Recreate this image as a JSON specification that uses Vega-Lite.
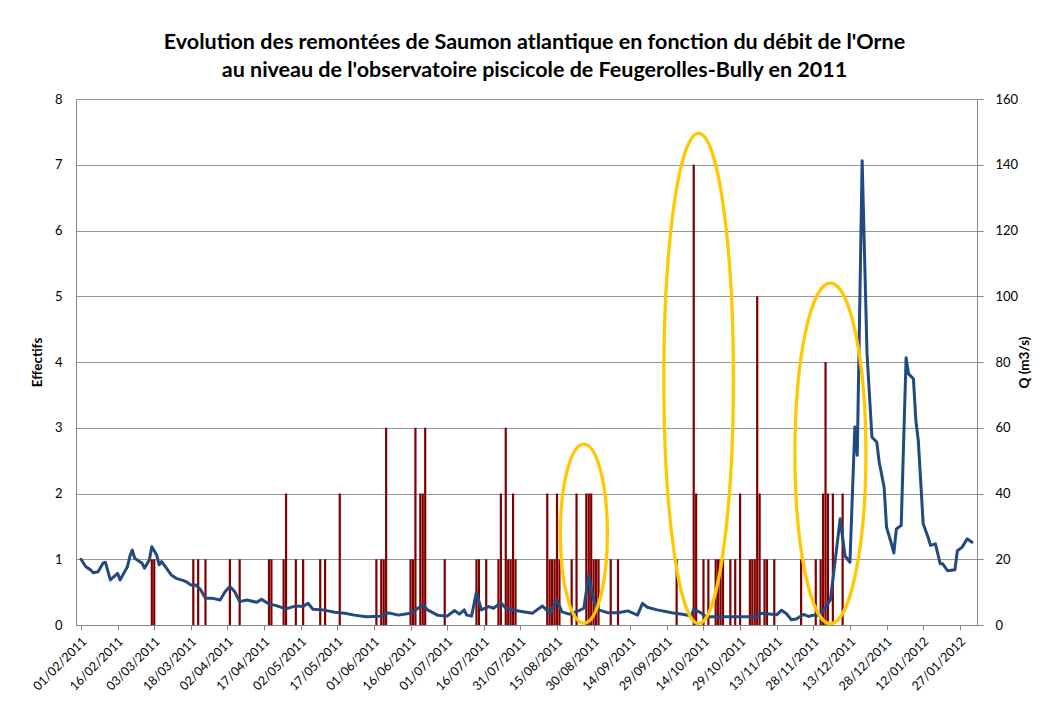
{
  "$schema": "https://vega.github.io/schema/vega-lite/v6.json",
  "width": 901,
  "height": 526,
  "autosize": {"type": "none"},
  "padding": {"left": 76, "top": 99, "right": 76, "bottom": 77},
  "background": "white",
  "title": {
    "text": [
      "Evolution des remontées de Saumon atlantique  en fonction du débit de l'Orne",
      "au niveau de l'observatoire piscicole de Feugerolles-Bully en 2011"
    ],
    "font": "Lato",
    "fontSize": 21.5,
    "fontWeight": "bold",
    "color": "#000000",
    "anchor": "middle",
    "lineHeight": 28,
    "offset": 12,
    "dx": 8
  },
  "encoding": {
    "x": {
      "field": "jour",
      "type": "temporal",
      "scale": {
        "domain": [
          {"year": 2011, "month": 2, "date": 1},
          {"year": 2012, "month": 2, "date": 1}
        ]
      },
      "axis": {
        "title": null,
        "format": "%d/%m/%Y",
        "values": [
          {"year": 2011, "month": 2, "date": 1},
          {"year": 2011, "month": 2, "date": 16},
          {"year": 2011, "month": 3, "date": 3},
          {"year": 2011, "month": 3, "date": 18},
          {"year": 2011, "month": 4, "date": 2},
          {"year": 2011, "month": 4, "date": 17},
          {"year": 2011, "month": 5, "date": 2},
          {"year": 2011, "month": 5, "date": 17},
          {"year": 2011, "month": 6, "date": 1},
          {"year": 2011, "month": 6, "date": 16},
          {"year": 2011, "month": 7, "date": 1},
          {"year": 2011, "month": 7, "date": 16},
          {"year": 2011, "month": 7, "date": 31},
          {"year": 2011, "month": 8, "date": 15},
          {"year": 2011, "month": 8, "date": 30},
          {"year": 2011, "month": 9, "date": 14},
          {"year": 2011, "month": 9, "date": 29},
          {"year": 2011, "month": 10, "date": 14},
          {"year": 2011, "month": 10, "date": 29},
          {"year": 2011, "month": 11, "date": 13},
          {"year": 2011, "month": 11, "date": 28},
          {"year": 2011, "month": 12, "date": 13},
          {"year": 2011, "month": 12, "date": 28},
          {"year": 2012, "month": 1, "date": 12},
          {"year": 2012, "month": 1, "date": 27}
        ],
        "labelAngle": -45,
        "labelAlign": "right",
        "labelBaseline": "middle",
        "labelFontSize": 12.5,
        "labelPadding": 9,
        "labelOffset": 3,
        "labelOverlap": false,
        "labelBound": false,
        "labelFlush": false,
        "ticks": true,
        "tickSize": 5,
        "grid": false
      }
    }
  },
  "layer": [
    {
      "data": {
        "format": {"parse": {"jour": "date:'%d/%m/%Y'"}},
        "values": [
          {"jour": "02/03/2011", "effectif": 1},
          {"jour": "03/03/2011", "effectif": 1},
          {"jour": "19/03/2011", "effectif": 1},
          {"jour": "21/03/2011", "effectif": 1},
          {"jour": "24/03/2011", "effectif": 1},
          {"jour": "03/04/2011", "effectif": 1},
          {"jour": "07/04/2011", "effectif": 1},
          {"jour": "19/04/2011", "effectif": 1},
          {"jour": "20/04/2011", "effectif": 1},
          {"jour": "25/04/2011", "effectif": 1},
          {"jour": "26/04/2011", "effectif": 2},
          {"jour": "30/04/2011", "effectif": 1},
          {"jour": "03/05/2011", "effectif": 1},
          {"jour": "10/05/2011", "effectif": 1},
          {"jour": "12/05/2011", "effectif": 1},
          {"jour": "18/05/2011", "effectif": 2},
          {"jour": "02/06/2011", "effectif": 1},
          {"jour": "04/06/2011", "effectif": 1},
          {"jour": "05/06/2011", "effectif": 1},
          {"jour": "06/06/2011", "effectif": 3},
          {"jour": "16/06/2011", "effectif": 1},
          {"jour": "17/06/2011", "effectif": 1},
          {"jour": "18/06/2011", "effectif": 3},
          {"jour": "20/06/2011", "effectif": 2},
          {"jour": "21/06/2011", "effectif": 2},
          {"jour": "22/06/2011", "effectif": 3},
          {"jour": "30/06/2011", "effectif": 1},
          {"jour": "13/07/2011", "effectif": 1},
          {"jour": "14/07/2011", "effectif": 1},
          {"jour": "17/07/2011", "effectif": 1},
          {"jour": "22/07/2011", "effectif": 1},
          {"jour": "23/07/2011", "effectif": 2},
          {"jour": "25/07/2011", "effectif": 3},
          {"jour": "26/07/2011", "effectif": 1},
          {"jour": "27/07/2011", "effectif": 1},
          {"jour": "28/07/2011", "effectif": 2},
          {"jour": "29/07/2011", "effectif": 1},
          {"jour": "11/08/2011", "effectif": 2},
          {"jour": "12/08/2011", "effectif": 1},
          {"jour": "13/08/2011", "effectif": 1},
          {"jour": "14/08/2011", "effectif": 1},
          {"jour": "15/08/2011", "effectif": 2},
          {"jour": "16/08/2011", "effectif": 1},
          {"jour": "21/08/2011", "effectif": 1},
          {"jour": "23/08/2011", "effectif": 2},
          {"jour": "27/08/2011", "effectif": 2},
          {"jour": "28/08/2011", "effectif": 2},
          {"jour": "29/08/2011", "effectif": 2},
          {"jour": "30/08/2011", "effectif": 1},
          {"jour": "31/08/2011", "effectif": 1},
          {"jour": "01/09/2011", "effectif": 1},
          {"jour": "06/09/2011", "effectif": 1},
          {"jour": "09/09/2011", "effectif": 1},
          {"jour": "03/10/2011", "effectif": 1},
          {"jour": "10/10/2011", "effectif": 7},
          {"jour": "11/10/2011", "effectif": 2},
          {"jour": "14/10/2011", "effectif": 1},
          {"jour": "16/10/2011", "effectif": 1},
          {"jour": "19/10/2011", "effectif": 1},
          {"jour": "20/10/2011", "effectif": 1},
          {"jour": "21/10/2011", "effectif": 1},
          {"jour": "22/10/2011", "effectif": 1},
          {"jour": "25/10/2011", "effectif": 1},
          {"jour": "27/10/2011", "effectif": 1},
          {"jour": "29/10/2011", "effectif": 2},
          {"jour": "02/11/2011", "effectif": 1},
          {"jour": "03/11/2011", "effectif": 1},
          {"jour": "04/11/2011", "effectif": 1},
          {"jour": "05/11/2011", "effectif": 5},
          {"jour": "06/11/2011", "effectif": 2},
          {"jour": "08/11/2011", "effectif": 1},
          {"jour": "09/11/2011", "effectif": 1},
          {"jour": "12/11/2011", "effectif": 1},
          {"jour": "23/11/2011", "effectif": 1},
          {"jour": "29/11/2011", "effectif": 1},
          {"jour": "01/12/2011", "effectif": 1},
          {"jour": "02/12/2011", "effectif": 2},
          {"jour": "03/12/2011", "effectif": 4},
          {"jour": "04/12/2011", "effectif": 2},
          {"jour": "06/12/2011", "effectif": 2},
          {"jour": "10/12/2011", "effectif": 2}
        ]
      },
      "mark": {"type": "bar", "size": 2.2, "color": "#800000"},
      "encoding": {
        "y": {
          "field": "effectif",
          "type": "quantitative",
          "scale": {"domain": [0, 8], "nice": false},
          "axis": {
            "orient": "left",
            "title": "Effectifs",
            "values": [0, 1, 2, 3, 4, 5, 6, 7, 8],
            "grid": true,
            "ticks": false,
            "labelPadding": 14,
            "titlePadding": 10
          }
        }
      }
    },
    {
      "data": {
        "format": {"parse": {"jour": "date:'%d/%m/%Y'"}},
        "values": [
          {"jour": "01/02/2011", "debit": 20.0},
          {"jour": "03/02/2011", "debit": 17.7},
          {"jour": "05/02/2011", "debit": 16.7},
          {"jour": "06/02/2011", "debit": 15.9},
          {"jour": "08/02/2011", "debit": 16.2},
          {"jour": "10/02/2011", "debit": 18.8},
          {"jour": "11/02/2011", "debit": 19.1},
          {"jour": "13/02/2011", "debit": 13.7},
          {"jour": "16/02/2011", "debit": 15.7},
          {"jour": "17/02/2011", "debit": 13.7},
          {"jour": "20/02/2011", "debit": 17.7},
          {"jour": "21/02/2011", "debit": 20.8},
          {"jour": "22/02/2011", "debit": 22.8},
          {"jour": "23/02/2011", "debit": 20.3},
          {"jour": "26/02/2011", "debit": 18.8},
          {"jour": "27/02/2011", "debit": 17.3},
          {"jour": "01/03/2011", "debit": 19.8},
          {"jour": "02/03/2011", "debit": 23.8},
          {"jour": "04/03/2011", "debit": 21.3},
          {"jour": "05/03/2011", "debit": 18.3},
          {"jour": "06/03/2011", "debit": 19.3},
          {"jour": "08/03/2011", "debit": 17.3},
          {"jour": "10/03/2011", "debit": 15.2},
          {"jour": "12/03/2011", "debit": 14.2},
          {"jour": "15/03/2011", "debit": 13.5},
          {"jour": "16/03/2011", "debit": 13.2},
          {"jour": "18/03/2011", "debit": 12.2},
          {"jour": "20/03/2011", "debit": 12.2},
          {"jour": "22/03/2011", "debit": 10.7},
          {"jour": "24/03/2011", "debit": 8.1},
          {"jour": "27/03/2011", "debit": 8.1},
          {"jour": "30/03/2011", "debit": 7.6},
          {"jour": "01/04/2011", "debit": 10.1},
          {"jour": "03/04/2011", "debit": 11.7},
          {"jour": "05/04/2011", "debit": 10.1},
          {"jour": "07/04/2011", "debit": 7.1},
          {"jour": "10/04/2011", "debit": 7.6},
          {"jour": "14/04/2011", "debit": 6.9},
          {"jour": "16/04/2011", "debit": 7.8},
          {"jour": "19/04/2011", "debit": 6.4},
          {"jour": "22/04/2011", "debit": 5.9},
          {"jour": "26/04/2011", "debit": 4.9},
          {"jour": "30/04/2011", "debit": 5.8},
          {"jour": "03/05/2011", "debit": 5.6},
          {"jour": "05/05/2011", "debit": 6.6},
          {"jour": "07/05/2011", "debit": 4.8},
          {"jour": "11/05/2011", "debit": 4.6},
          {"jour": "16/05/2011", "debit": 3.9},
          {"jour": "20/05/2011", "debit": 3.6},
          {"jour": "24/05/2011", "debit": 3.0},
          {"jour": "29/05/2011", "debit": 2.5},
          {"jour": "01/06/2011", "debit": 2.6},
          {"jour": "04/06/2011", "debit": 2.7},
          {"jour": "07/06/2011", "debit": 3.7},
          {"jour": "11/06/2011", "debit": 3.0},
          {"jour": "16/06/2011", "debit": 3.6},
          {"jour": "21/06/2011", "debit": 6.1},
          {"jour": "23/06/2011", "debit": 4.6},
          {"jour": "27/06/2011", "debit": 3.0},
          {"jour": "01/07/2011", "debit": 2.7},
          {"jour": "04/07/2011", "debit": 4.4},
          {"jour": "06/07/2011", "debit": 3.3},
          {"jour": "08/07/2011", "debit": 4.6},
          {"jour": "09/07/2011", "debit": 3.0},
          {"jour": "11/07/2011", "debit": 2.7},
          {"jour": "13/07/2011", "debit": 10.0},
          {"jour": "15/07/2011", "debit": 4.6},
          {"jour": "18/07/2011", "debit": 5.6},
          {"jour": "20/07/2011", "debit": 5.1},
          {"jour": "23/07/2011", "debit": 6.8},
          {"jour": "25/07/2011", "debit": 5.1},
          {"jour": "29/07/2011", "debit": 4.4},
          {"jour": "05/08/2011", "debit": 3.6},
          {"jour": "09/08/2011", "debit": 5.8},
          {"jour": "12/08/2011", "debit": 3.6},
          {"jour": "15/08/2011", "debit": 7.6},
          {"jour": "17/08/2011", "debit": 4.0},
          {"jour": "20/08/2011", "debit": 3.3},
          {"jour": "24/08/2011", "debit": 4.4},
          {"jour": "26/08/2011", "debit": 5.1},
          {"jour": "28/08/2011", "debit": 15.2},
          {"jour": "30/08/2011", "debit": 7.6},
          {"jour": "01/09/2011", "debit": 4.6},
          {"jour": "05/09/2011", "debit": 3.7},
          {"jour": "09/09/2011", "debit": 3.7},
          {"jour": "13/09/2011", "debit": 4.3},
          {"jour": "17/09/2011", "debit": 3.0},
          {"jour": "19/09/2011", "debit": 6.6},
          {"jour": "21/09/2011", "debit": 5.4},
          {"jour": "25/09/2011", "debit": 4.6},
          {"jour": "01/10/2011", "debit": 3.7},
          {"jour": "06/10/2011", "debit": 3.2},
          {"jour": "09/10/2011", "debit": 2.7},
          {"jour": "10/10/2011", "debit": 4.8},
          {"jour": "13/10/2011", "debit": 3.7},
          {"jour": "15/10/2011", "debit": 2.5},
          {"jour": "25/10/2011", "debit": 2.5},
          {"jour": "05/11/2011", "debit": 2.5},
          {"jour": "06/11/2011", "debit": 3.6},
          {"jour": "09/11/2011", "debit": 3.4},
          {"jour": "13/11/2011", "debit": 3.1},
          {"jour": "15/11/2011", "debit": 4.5},
          {"jour": "17/11/2011", "debit": 3.4},
          {"jour": "19/11/2011", "debit": 1.6},
          {"jour": "21/11/2011", "debit": 1.8},
          {"jour": "24/11/2011", "debit": 3.2},
          {"jour": "26/11/2011", "debit": 2.6},
          {"jour": "28/11/2011", "debit": 3.0},
          {"jour": "01/12/2011", "debit": 3.0},
          {"jour": "03/12/2011", "debit": 5.4},
          {"jour": "05/12/2011", "debit": 7.6},
          {"jour": "09/12/2011", "debit": 32.3},
          {"jour": "11/12/2011", "debit": 21.0},
          {"jour": "13/12/2011", "debit": 19.1},
          {"jour": "15/12/2011", "debit": 60.2},
          {"jour": "16/12/2011", "debit": 51.6},
          {"jour": "18/12/2011", "debit": 141.2},
          {"jour": "20/12/2011", "debit": 82.5},
          {"jour": "22/12/2011", "debit": 57.2},
          {"jour": "24/12/2011", "debit": 55.6},
          {"jour": "25/12/2011", "debit": 49.5},
          {"jour": "27/12/2011", "debit": 41.9},
          {"jour": "28/12/2011", "debit": 29.7},
          {"jour": "30/12/2011", "debit": 24.7},
          {"jour": "31/12/2011", "debit": 21.9},
          {"jour": "01/01/2012", "debit": 29.2},
          {"jour": "03/01/2012", "debit": 30.3},
          {"jour": "05/01/2012", "debit": 81.3},
          {"jour": "06/01/2012", "debit": 76.4},
          {"jour": "08/01/2012", "debit": 74.9},
          {"jour": "09/01/2012", "debit": 62.2},
          {"jour": "10/01/2012", "debit": 56.1},
          {"jour": "12/01/2012", "debit": 30.8},
          {"jour": "14/01/2012", "debit": 26.7},
          {"jour": "15/01/2012", "debit": 24.2},
          {"jour": "17/01/2012", "debit": 24.7},
          {"jour": "19/01/2012", "debit": 18.6},
          {"jour": "20/01/2012", "debit": 18.6},
          {"jour": "22/01/2012", "debit": 16.5},
          {"jour": "25/01/2012", "debit": 16.8},
          {"jour": "26/01/2012", "debit": 22.6},
          {"jour": "28/01/2012", "debit": 23.7},
          {"jour": "30/01/2012", "debit": 26.2},
          {"jour": "01/02/2012", "debit": 25.2}
        ]
      },
      "mark": {"type": "line", "color": "#234A7F", "strokeWidth": 3, "strokeJoin": "round", "strokeCap": "round"},
      "encoding": {
        "y": {
          "field": "debit",
          "type": "quantitative",
          "scale": {"domain": [0, 160], "nice": false},
          "axis": {
            "orient": "right",
            "title": "Q (m3/s)",
            "titleAngle": -90,
            "values": [0, 20, 40, 60, 80, 100, 120, 140, 160],
            "grid": false,
            "ticks": true,
            "tickSize": 6,
            "labelPadding": 12,
            "titlePadding": 14
          }
        }
      }
    },
    {
      "data": {
        "format": {"parse": {"jour": "date:'%d/%m/%Y'"}},
        "values": [{"jour": "26/08/2011", "effectif": 1.39}]
      },
      "mark": {
        "type": "point",
        "filled": false,
        "opacity": 1,
        "stroke": "#FFC800",
        "strokeWidth": 3.3,
        "size": 32041,
        "shape": "M0,-1C0.1453,-1 0.263,-0.5523 0.263,0C0.263,0.5523 0.1453,1 0,1C-0.1453,1 -0.263,0.5523 -0.263,0C-0.263,-0.5523 -0.1453,-1 0,-1Z"
      },
      "encoding": {
        "y": {"field": "effectif", "type": "quantitative", "scale": {"domain": [0, 8], "nice": false}, "axis": null}
      }
    },
    {
      "data": {
        "format": {"parse": {"jour": "date:'%d/%m/%Y'"}},
        "values": [{"jour": "12/10/2011", "effectif": 3.75}]
      },
      "mark": {
        "type": "point",
        "filled": false,
        "opacity": 1,
        "stroke": "#FFC800",
        "strokeWidth": 3.3,
        "size": 240100,
        "shape": "M0,-1C0.0784,-1 0.142,-0.5523 0.142,0C0.142,0.5523 0.0784,1 0,1C-0.0784,1 -0.142,0.5523 -0.142,0C-0.142,-0.5523 -0.0784,-1 0,-1Z"
      },
      "encoding": {
        "y": {"field": "effectif", "type": "quantitative", "scale": {"domain": [0, 8], "nice": false}, "axis": null}
      }
    },
    {
      "data": {
        "format": {"parse": {"jour": "date:'%d/%m/%Y'"}},
        "values": [{"jour": "05/12/2011", "effectif": 2.61}]
      },
      "mark": {
        "type": "point",
        "filled": false,
        "opacity": 1,
        "stroke": "#FFC800",
        "strokeWidth": 3.3,
        "size": 116008,
        "shape": "M0,-1C0.1152,-1 0.2085,-0.5523 0.2085,0C0.2085,0.5523 0.1152,1 0,1C-0.1152,1 -0.2085,0.5523 -0.2085,0C-0.2085,-0.5523 -0.1152,-1 0,-1Z"
      },
      "encoding": {
        "y": {"field": "effectif", "type": "quantitative", "scale": {"domain": [0, 8], "nice": false}, "axis": null}
      }
    }
  ],
  "resolve": {"scale": {"y": "independent"}},
  "config": {
    "view": {"stroke": null},
    "font": "Lato",
    "axis": {
      "labelFont": "Lato",
      "labelFontSize": 13,
      "labelColor": "#000000",
      "titleFont": "Lato",
      "titleFontSize": 13.5,
      "titleFontWeight": "bold",
      "titleColor": "#000000",
      "domainColor": "#868686",
      "domainWidth": 1,
      "tickColor": "#868686",
      "gridColor": "#969696",
      "gridWidth": 1
    }
  }
}
